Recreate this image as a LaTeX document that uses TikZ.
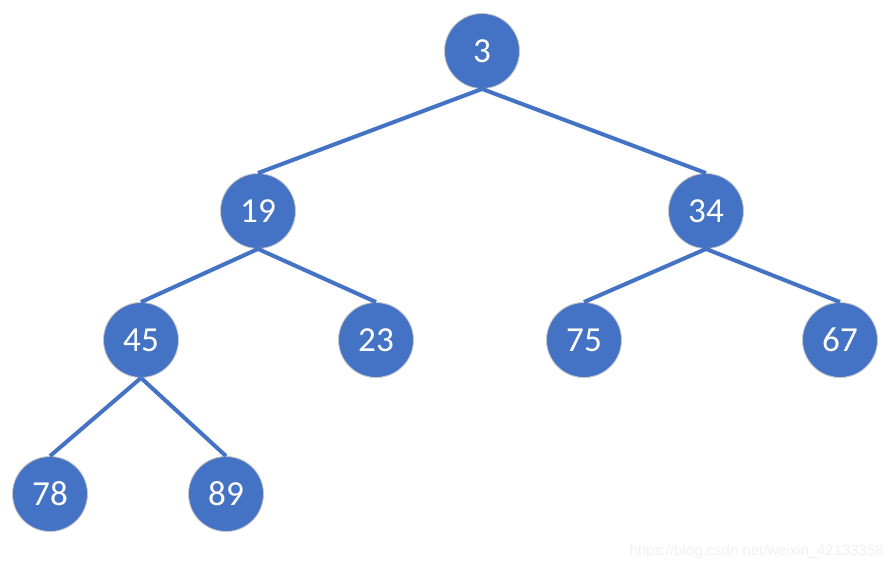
\documentclass[tikz,border=0pt]{standalone}
\usepackage{fontspec}
\setmainfont{Carlito}
\newfontfamily\markfont{Liberation Sans}
\usepackage{tikz}
\usetikzlibrary{positioning}
\definecolor{treeblue}{HTML}{4472C4}

\begin{document}
\begin{tikzpicture}[
    x=0.02cm,
    y=-0.02cm,
    key/.style={
		circle,
		draw=gray!45,
		line width=0.5pt,
		fill=treeblue,
		text=white,
		minimum size=1.5cm,
		inner sep=0pt,
		font=\fontsize{20}{23}\selectfont
	},
	branch/.style={
		draw=treeblue,
		line width=2.3pt
	}
  ]

 \useasboundingbox (0,0) rectangle (893,568);

 % // the tree
 \node [key] (n3)  at (482,51)  {3};
 \node [key] (n19) at (258,211) {19};
 \node [key] (n34) at (706,211) {34};
 \node [key] (n45) at (141,340) {45};
 \node [key] (n23) at (376,340) {23};
 \node [key] (n75) at (584,340) {75};
 \node [key] (n67) at (840,340) {67};
 \node [key] (n78) at (50,494)  {78};
 \node [key] (n89) at (226,494) {89};

 \draw [branch] (n3.south) -- (n19.north);
 \draw [branch] (n3.south) -- (n34.north);
 \draw [branch] (n19.south) -- (n45.north);
 \draw [branch] (n19.south) -- (n23.north);
 \draw [branch] (n34.south) -- (n75.north);
 \draw [branch] (n34.south) -- (n67.north);
 \draw [branch] (n45.south) -- (n78.north);
 \draw [branch] (n45.south) -- (n89.north);

 % // watermark
 \node [anchor=base east, text=gray!12, inner sep=0pt, font=\markfont\fontsize{8.5}{10}\selectfont] (mark) at (884,555) {https://blog.csdn.net/weixin\_42133358};

\end{tikzpicture}
\end{document}
